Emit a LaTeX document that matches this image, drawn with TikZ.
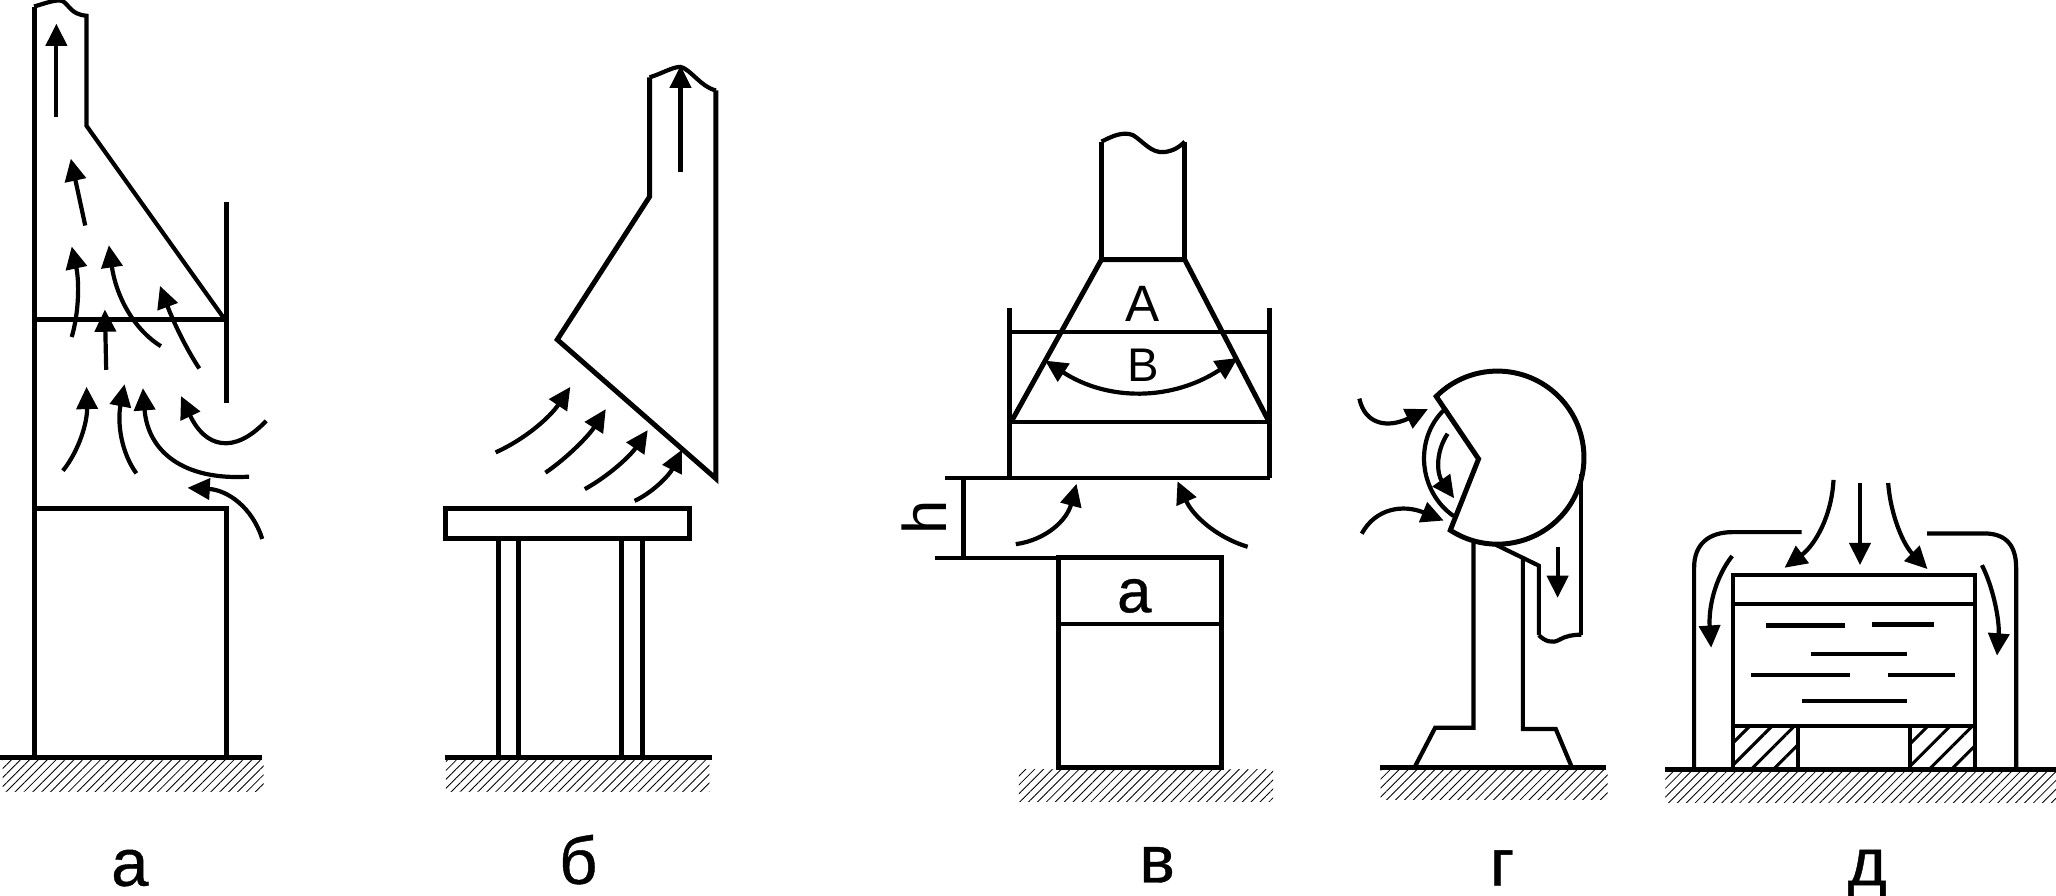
\documentclass[tikz,border=0pt]{standalone}
\usepackage{fontspec}
\setmainfont{Liberation Sans}
\newfontfamily\panelfont{Liberation Sans}[FakeBold=0.6]
\usetikzlibrary{arrows.meta, calc, patterns.meta}
\tikzset{
  wall/.style = {line width=3.8pt, line join=miter},
  thinwall/.style = {line width=3.2pt},
  flow/.style = {line width=3.2pt, -{Triangle[length=17pt,width=16pt]}},
  bothflow/.style = {line width=3.2pt, {Triangle[length=17pt,width=16pt]}-{Triangle[length=17pt,width=16pt]}},
  ground/.style = {pattern={Lines[angle=45,distance=4.8pt,line width=0.65pt]}},
  block/.style = {pattern={Lines[angle=45,distance=12pt,line width=2.3pt]}},
  panel/.style = {anchor=base, inner sep=0pt, font=\panelfont\fontsize{51}{60}\selectfont},
  letter/.style = {inner sep=0pt, font=\fontsize{39}{48}\selectfont}
}
% curved air stream through three points: start, middle, end
\newcommand{\airflow}[4][flow]{\draw[#1] (#2) .. controls ($1.3333*(#3)-0.3333*(#4)$) and ($1.3333*(#3)-0.3333*(#2)$) .. (#4);}

\begin{document}
\begin{tikzpicture}[x=1pt, y=-1pt]
  \useasboundingbox (0,0) rectangle (1568,683.3);

  % a
  \path[ground] (2,580) rectangle (201,604);
  \draw[wall] (0,578) -- (200,578);
  \draw[wall] (26,578) -- (26,5);
  \draw[thinwall] (26,5) .. controls (36,2) and (44,-1) .. (48,1)
    .. controls (53,4) and (54,11) .. (66,12) -- (66,96) -- (171,243);
  \draw[wall] (172.6,154) -- (172.6,307);
  \draw[wall] (26,244) -- (172,244);
  \draw[wall] (26,388) -- (172.6,388) -- (172.6,578);

  \draw[flow] (43,89) -- (43,18);
  \draw[flow] (65,172) -- (54,121);
  \airflow{54.7,257}{59,225}{54.7,188}
  \draw[flow] (81,282) -- (80,236);
  \airflow{122.7,264}{97,235}{83,187}
  \airflow{152,281}{137,254}{122,218}
  \airflow{48,359}{62,331}{66,295}
  \airflow{104,361}{93,332}{95,293}
  \airflow{190,363.5}{132,349}{109,296}
  \airflow{203,321}{168,336}{138,302}
  \airflow{200,411}{180,383}{143,372}

  \node[panel] (labela) at (99,675.5) {а};

  % b
  \path[ground] (340,580) rectangle (541,604);
  \draw[wall] (339,578) -- (543,578);
  \draw[wall] (495.4,59) -- (495.4,150) -- (425,259) -- (546,365) -- (546,69);
  \draw[thinwall] (495.4,59) .. controls (505,56) and (513,51) .. (519,51)
    .. controls (527,53) and (534,66) .. (546,69);
  \draw[wall] (340,388) rectangle (526,411);
  \draw[wall] (380,411) -- (380,578);
  \draw[thinwall] (395.5,411) -- (395.5,578);
  \draw[thinwall] (474,411) -- (474,578);
  \draw[wall] (490,411) -- (490,578);

  \draw[flow] (519,131) -- (519,50);
  \airflow{378,345}{409,325}{435,295}
  \airflow{416,360.5}{441,339}{462,312}
  \airflow{446,373}{472,354}{494,328}
  \airflow{484,382}{504,367}{520,343}

  \node[panel] (labelb) at (441,674) {б};

  % v
  \path[ground] (777,587) rectangle (971,611);
  \draw[wall] (807,425.5) rectangle (931.3,585.4);
  \draw[thinwall] (807,475.8) -- (931.3,475.8);
  \draw[wall] (840,198) -- (840,108);
  \draw[wall] (903.5,198) -- (903.5,108);
  \draw[thinwall] (840,108) .. controls (848,104) and (856,100) .. (864,103)
    .. controls (872,108) and (878,117) .. (888,116)
    .. controls (895,115) and (900,112) .. (903.5,108);
  \draw[wall] (771,322) -- (840,198) -- (903.5,198) -- (968,322);
  \draw[thinwall] (771,322) -- (968,322);
  \draw[thinwall] (770,253) -- (968,253);
  \draw[wall] (769.7,235) -- (769.7,364.7);
  \draw[wall] (968,235) -- (968,364.7);
  \draw[thinwall] (720.4,364.7) -- (968.7,364.7);
  \draw[wall] (735,364.7) -- (735,425.5);
  \draw[thinwall] (713,425.5) -- (931,425.5);

  \airflow[bothflow]{797,275}{870,298}{944,273}
  \airflow{774.7,415}{804,401}{821,369}
  \airflow{951.5,417}{920,399}{898,367}

  \node[letter] (fieldA) at (871,231.5) {A};
  \node[letter, font=\fontsize{36}{44}\selectfont] (fieldB) at (871.5,278.5) {B};
  \node[panel, anchor=center, font=\panelfont\fontsize{47}{50}\selectfont] (sizea) at (865,454.5) {a};
  \node[panel, anchor=center, rotate=90, font=\fontsize{47}{50}\selectfont] (sizeh) at (705,394.5) {h};
  \node[panel] (labelv) at (882.5,673) {в};

  % g
  \path[ground] (1053,587) rectangle (1226,609.7);
  \draw[wall] (1052.8,585.4) -- (1225,585.4);
  \coordinate (headc) at (1142,349);
  \draw[wall] ($(headc)+(135:66pt)$) arc[start angle=135, end angle=-123, radius=66pt]
    -- (1127.6,350) -- cycle;
  \draw[thinwall] (1101.5,312.4) .. controls (1078,335) and (1082,375) .. (1108.5,393.5);
  \draw[thinwall] (1206,361.5) -- (1206,484);
  \draw[thinwall] (1173.6,484.4) .. controls (1178,489) and (1184,491) .. (1189,488)
    .. controls (1194,485) and (1200,484) .. (1206,484);
  \draw[thinwall] (1140.5,415.3) -- (1173.6,431.4) -- (1173.6,484.4);
  \draw[thinwall] (1123.8,414) -- (1123.8,555) -- (1094.5,555) -- (1078.9,585);
  \draw[thinwall] (1161.4,425.5) -- (1161.4,556) -- (1186.5,556) -- (1198.7,585);

  \airflow{1036.7,304}{1053,321}{1089,312}
  \airflow{1038.5,407}{1062,390}{1101,397}
  \airflow{1104,330.8}{1098,354}{1109,380}
  \draw[flow] (1187.9,417) -- (1187.9,456);

  \node[panel] (labelg) at (1145.5,675.5) {г};

  % d
  \path[ground] (1270,589) rectangle (1568,612.3);
  \path[block] (1321.6,553.4) rectangle (1371.5,586.7);
  \path[block] (1456.8,553.4) rectangle (1506.3,586.7);
  \draw[thinwall] (1321.6,553.4) rectangle (1371.5,586.7);
  \draw[thinwall] (1456.8,553.4) rectangle (1506.3,586.7);
  \draw[wall] (1270,586.7) -- (1568,586.7);
  \draw[thinwall] (1321.6,438.8) rectangle (1506.3,553.4);
  \draw[thinwall] (1321.6,460.8) -- (1506.3,460.8);
  \draw[thinwall] (1292,586.7) -- (1292,433)
    .. controls (1292,415) and (1303,405.8) .. (1321.6,405.8) -- (1373.9,405.8);
  \draw[thinwall] (1469.7,406.8) -- (1513,406.8)
    .. controls (1528,406.8) and (1537.6,414) .. (1537.6,433) -- (1537.6,586.7);

  \airflow{1398.3,366}{1388,403}{1361,433}
  \draw[flow] (1418.5,368) -- (1418.5,431);
  \airflow{1440,368.4}{1449,404}{1470,434}
  \draw[flow] (1321,424) .. controls (1307,442) and (1303,465) .. (1305,494);
  \draw[flow] (1511.5,431) .. controls (1521,450) and (1525,475) .. (1523,500);

  \foreach \xa/\xb/\yy in {1346.7/1407.3/477, 1427.9/1475/476}
    \draw[wall] (\xa,\yy) -- (\xb,\yy);
  \foreach \xa/\xb/\yy in {1380.9/1454.7/499, 1335.6/1411/515, 1440/1490.6/515, 1374/1454/534.7}
    \draw[thinwall] (\xa,\yy) -- (\xb,\yy);

  \node[panel] (labeld) at (1424,675) {д};
\end{tikzpicture}
\end{document}
